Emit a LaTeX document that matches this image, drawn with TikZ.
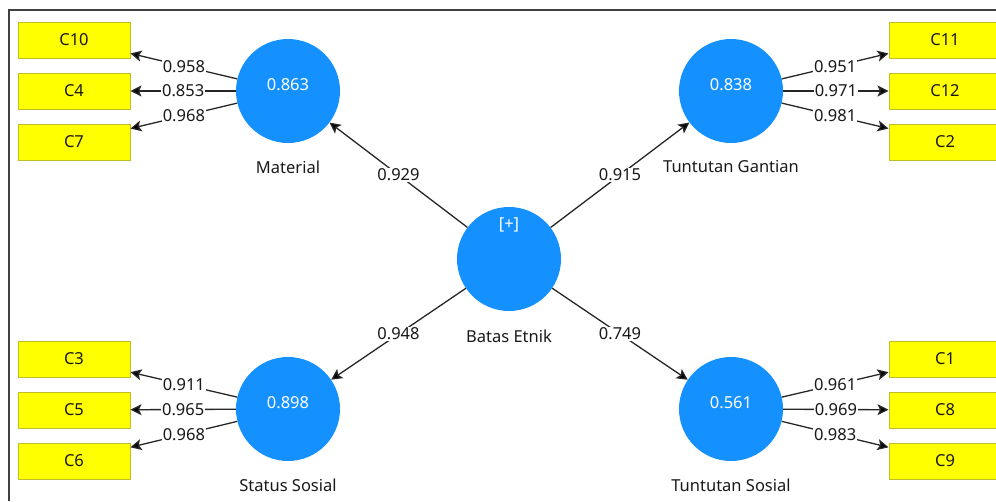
\documentclass[tikz,border=0pt]{standalone}
\usepackage{fontspec}
\setmainfont{Noto Sans}
\usetikzlibrary{arrows.meta}
\definecolor{lvblue}{RGB}{20,145,255}
\definecolor{indyellow}{RGB}{255,255,0}
\definecolor{indedge}{RGB}{190,190,40}
\definecolor{framegray}{RGB}{64,64,64}
\begin{document}
\begin{tikzpicture}[
        x=1pt, y=-1pt,
        every node/.style={font=\fontsize{16.5}{18}\selectfont, text=black!90},
        lv/.style={circle, fill=lvblue, minimum size=104pt, inner sep=0pt},
        val/.style={text=white},
        ind/.style={draw=indedge, line width=1pt, fill=indyellow, minimum width=112pt, minimum height=36pt, inner sep=0pt},
        ar/.style={-{Stealth[length=11pt, width=11pt, inset=2.5pt]}, line width=1.3pt, draw=black!85},
        wt/.style={fill=white, inner sep=1pt, midway},
    ]

    \useasboundingbox (0,0) rectangle (996,501);
    \draw[framegray, line width=1.3pt] (9,501) -- (9,10) -- (996,10);

    % latent variables
    \node[lv, label={[val, yshift=6pt]center:0.863}, label={[label distance=14pt]below:Material}](mat) at (288,91) {};
    \node[lv, label={[val, yshift=6pt]center:0.838}, label={[label distance=14pt]below:Tuntutan Gantian}](tg) at (731,91) {};
    \node[lv, label={[val, yshift=34pt]center:[+]}, label={[label distance=15pt]below:Batas Etnik}](be) at (509,259) {};
    \node[lv, label={[val, yshift=6pt]center:0.898}, label={[label distance=14pt]below:Status Sosial}](ss) at (288,409) {};
    \node[lv, label={[val, yshift=6pt]center:0.561}, label={[label distance=14pt]below:Tuntutan Sosial}](ts) at (731,409) {};

    % indicators
    \node[ind](c10) at (74,40) {C10};
    \node[ind](c4) at (74,91) {C4};
    \node[ind](c7) at (74,142) {C7};
    \node[ind](c3) at (74,359) {C3};
    \node[ind](c5) at (74,410) {C5};
    \node[ind](c6) at (74,461) {C6};
    \node[ind](c11) at (945,40) {C11};
    \node[ind](c12) at (945,91) {C12};
    \node[ind](c2) at (945,142) {C2};
    \node[ind](c1) at (945,359) {C1};
    \node[ind](c8) at (945,410) {C8};
    \node[ind](c9) at (945,461) {C9};

    \path[ar]
    (be) edge node[wt] {0.929} (mat)
         edge node[wt] {0.915} (tg)
         edge node[wt] {0.948} (ss)
         edge node[wt] {0.749} (ts)

    (mat) edge node[wt] {0.958} (c10)
          edge node[wt] {0.853} (c4)
          edge node[wt] {0.968} (c7)
    (tg) edge node[wt] {0.951} (c11)
         edge node[wt] {0.971} (c12)
         edge node[wt] {0.981} (c2)
    (ss) edge node[wt] {0.911} (c3)
         edge node[wt] {0.965} (c5)
         edge node[wt] {0.968} (c6)
    (ts) edge node[wt] {0.961} (c1)
         edge node[wt] {0.969} (c8)
         edge node[wt] {0.983} (c9)
    ;
\end{tikzpicture}
\end{document}
